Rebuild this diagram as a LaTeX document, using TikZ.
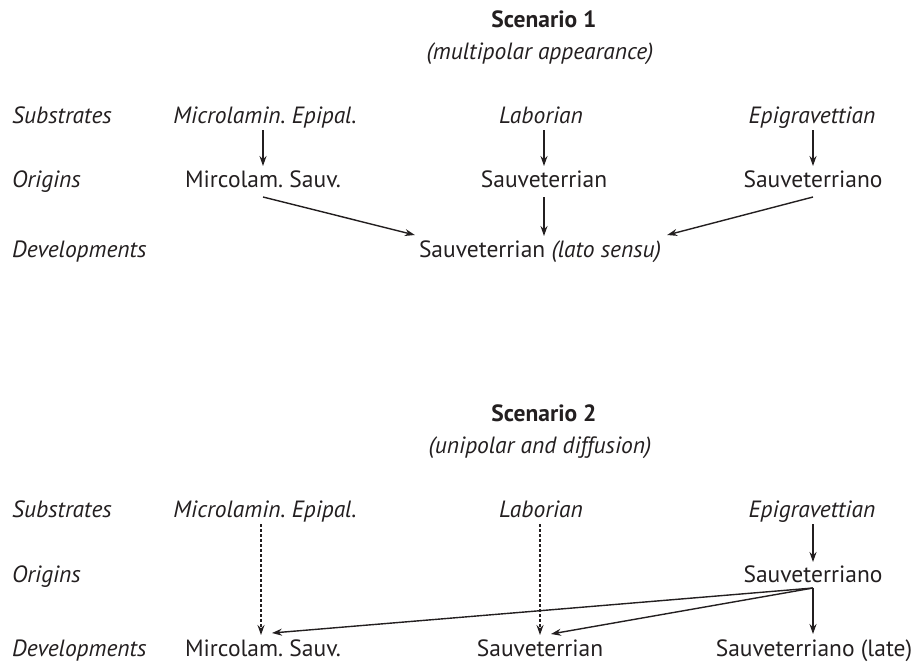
\documentclass[tikz,border=0pt]{standalone}
\usepackage{fontspec}
\setmainfont{PT Sans}
\usetikzlibrary{arrows.meta}
\definecolor{ink}{HTML}{231F20}
\begin{document}
\frenchspacing
\begin{tikzpicture}[x=1pt,y=-1pt,
  txt/.style={anchor=base,inner sep=0pt,text=ink,font=\fontsize{23.5}{28}\selectfont},
  itxt/.style={txt,font=\fontsize{23.5}{28}\selectfont\itshape},
  rowlbl/.style={itxt,anchor=base west},
  ttl/.style={txt,font=\fontsize{23.5}{28}\selectfont\bfseries},
  arr/.style={draw=ink,line width=1.4pt,-{Stealth[length=10pt,width=7pt]}},
  darr/.style={arr,dash pattern=on 3pt off 2pt}]
\useasboundingbox (0,0) rectangle (912,664);
% ---------- Scenario 1 ----------
\node[ttl] (t1) at (544,27) {Scenario 1};
\node[itxt] (st1) at (540,59) {(multipolar appearance)};
\node[rowlbl] (rs1) at (12,123) {Substrates};
\node[rowlbl] (ro1) at (12,187) {Origins};
\node[rowlbl] (rd1) at (12,257) {Developments};
\node[itxt] (s1a) at (265,123) {Microlamin. Epipal.};
\node[itxt] (s1b) at (541,123) {Laborian};
\node[itxt] (s1c) at (812,123) {Epigravettian};
\node[txt] (o1a) at (263,187) {Mircolam. Sauv.};
\node[txt] (o1b) at (544,187) {Sauveterrian};
\node[txt] (o1c) at (813,187) {Sauveterriano};
\node[txt] (d1) at (540,257) {Sauveterrian \textit{(lato sensu)}};
\draw[arr] ([yshift=-7pt]o1a.base |- s1a.base) -- ([yshift=21pt]o1a.base);
\draw[arr] ([yshift=-7pt]o1b.base |- s1b.base) -- ([yshift=21pt]o1b.base);
\draw[arr] ([yshift=-7pt]o1c.base |- s1c.base) -- ([yshift=21pt]o1c.base);
\draw[arr] ([yshift=-10pt]o1a.base) -- ([xshift=-4pt,yshift=22pt]d1.base west);
\draw[arr] ([yshift=-10pt]o1b.base) -- ([yshift=21pt]o1b.base |- d1.base);
\draw[arr] ([yshift=-10pt]o1c.base) -- ([xshift=6pt,yshift=22pt]d1.base east);
% ---------- Scenario 2 ----------
\node[ttl] (t2) at (544,421) {Scenario 2};
\node[itxt] (st2) at (540,453) {(unipolar and diffusion)};
\node[rowlbl] (rs2) at (12,517) {Substrates};
\node[rowlbl] (ro2) at (12,582) {Origins};
\node[rowlbl] (rd2) at (12,656) {Developments};
\node[itxt] (s2a) at (265,517) {Microlamin. Epipal.};
\node[itxt] (s2b) at (541,517) {Laborian};
\node[itxt] (s2c) at (812,517) {Epigravettian};
\node[txt] (o2c) at (813,582) {Sauveterriano};
\node[txt] (d2a) at (263,656) {Mircolam. Sauv.};
\node[txt] (d2b) at (540,656) {Sauveterrian};
\node[txt] (d2c) at (814,656) {Sauveterriano (late)};
\draw[darr] ([xshift=-2pt,yshift=-7pt]d2a.base |- s2a.base) -- ([xshift=-2pt,yshift=21pt]d2a.base);
\draw[darr] ([yshift=-7pt]d2b.base |- s2b.base) -- ([yshift=21pt]d2b.base);
\draw[arr] ([yshift=-7pt]o2c.base |- s2c.base) -- ([yshift=20pt]o2c.base);
\draw[arr] ([yshift=-6pt]o2c.base) -- ([xshift=9pt,yshift=23pt]d2a.base);
\draw[arr] ([yshift=-6pt]o2c.base) -- ([xshift=11pt,yshift=22pt]d2b.base);
\draw[arr] ([yshift=-6pt]o2c.base) -- ([yshift=22pt]o2c.base |- d2c.base);
\end{tikzpicture}
\end{document}
